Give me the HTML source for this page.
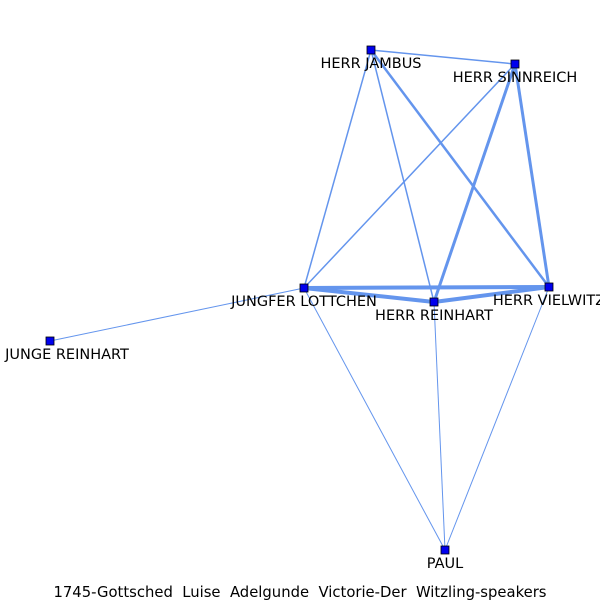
<!DOCTYPE html>
<html><head><meta charset="utf-8"><style>
html,body{margin:0;padding:0;background:#fff;}
svg text{font-family:"DejaVu Sans","Liberation Sans",sans-serif;font-size:14.5px;fill:#000;white-space:pre;}
</style></head><body>
<svg id="chart" width="600" height="600" viewBox="0 0 600 600" xmlns="http://www.w3.org/2000/svg">
<g id="edges"></g>
<g id="nodes"></g>
<text x="300" y="597" text-anchor="middle" xml:space="preserve" style="font-size:14.8px">1745-Gottsched  Luise  Adelgunde  Victorie-Der  Witzling-speakers</text>
</svg>
<script>
const nodeNames = ["HERR JAMBUS","HERR SINNREICH","JUNGFER LOTTCHEN","HERR REINHART","HERR VIELWITZ","JUNGE REINHART","PAUL"];
const nodeX = [371,515,304,434,549,50,445];
const nodeY = [50,64,288,302,287,341,550];
const labelX = [371,515,304,434,549,67,445];
const edgeSource = [0,0,0,0,1,1,1,2,2,3,2,2,3,4];
const edgeTarget = [1,2,3,4,2,3,4,4,3,4,5,6,6,6];
const edgeWeight = [1.5,1.5,1.5,2.5,1.5,3,3,4,4,4,1,1,1,1];
const NS="http://www.w3.org/2000/svg";
const eg=document.getElementById('edges'), ng=document.getElementById('nodes');
for(let i=0;i<edgeSource.length;i++){
  const a=edgeSource[i], b=edgeTarget[i];
  const l=document.createElementNS(NS,'line');
  l.setAttribute('x1',nodeX[a]);l.setAttribute('y1',nodeY[a]);
  l.setAttribute('x2',nodeX[b]);l.setAttribute('y2',nodeY[b]);
  l.setAttribute('stroke','#6495ed');l.setAttribute('stroke-width',edgeWeight[i]);
  
  
  eg.appendChild(l);
}
for(let i=0;i<nodeNames.length;i++){
  const r=document.createElementNS(NS,'rect');
  r.setAttribute('x',nodeX[i]-4);r.setAttribute('y',nodeY[i]-4);
  r.setAttribute('width',8);r.setAttribute('height',8);
  r.setAttribute('fill','#0000ee');r.setAttribute('stroke','#000');r.setAttribute('stroke-width','0.8');
  
  
  ng.appendChild(r);
  const t=document.createElementNS(NS,'text');
  t.setAttribute('x',labelX[i]);t.setAttribute('y',nodeY[i]+18);
  t.setAttribute('text-anchor','middle');
  t.textContent=nodeNames[i];
  
  
  ng.appendChild(t);
}
</script>
</body></html>
